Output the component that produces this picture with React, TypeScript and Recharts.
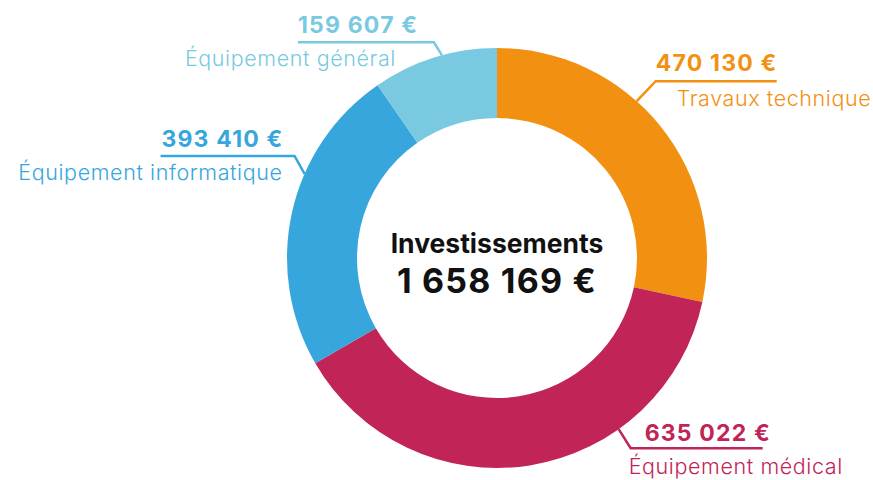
import React from 'react';
import { PieChart, Pie, Cell, Label } from 'recharts';

const categories = ['Travaux technique', 'Équipement médical', 'Équipement informatique', 'Équipement général'];
const values = [470130, 635022, 393410, 159607];
const amountLabels = ['470 130 €', '635 022 €', '393 410 €', '159 607 €'];
const totalLabel = '1 658 169 €';
const centerTitle = 'Investissements';

const COLORS = ['#F29111', '#C12557', '#37A6DD', '#79CAE1'];

const CX = 497;
const CY = 258;
const FONT = 'Inter, "Open Sans", sans-serif';

// leader line layout per slice: anchor angle on the outer edge, elbow offset, line end, text offsets
const LAYOUT = [
  { angle: 48.3, elbow: [19, -20], lineLen: 121, value: { dx: 0, dy: -10, anchor: 'start' }, cat: { dx: 21, dy: 25, anchor: 'start' } },
  { angle: -54.6, elbow: [12, 19], lineLen: 132, value: { dx: 14, dy: -7, anchor: 'start' }, cat: { dx: -2, dy: 26, anchor: 'start' } },
  { angle: 156.4, elbow: [-10, -18], lineLen: -134, value: { dx: -11, dy: -9, anchor: 'end' }, cat: { dx: -12, dy: 24, anchor: 'end' } },
  { angle: 105.2, elbow: [-8, -13], lineLen: -136, value: { dx: -136, dy: -9, anchor: 'start' }, cat: { dx: -38, dy: 24, anchor: 'end' } },
];

const data = categories.map((name, i) => ({ name, value: values[i] }));

const renderLabel = (props: any) => {
  const { index, outerRadius } = props;
  const cx = typeof props.cx === 'number' ? props.cx : CX;
  const cy = typeof props.cy === 'number' ? props.cy : CY;
  const l = LAYOUT[index];
  const rad = (l.angle * Math.PI) / 180;
  const sx = cx + outerRadius * Math.cos(rad);
  const sy = cy - outerRadius * Math.sin(rad);
  const ex = sx + l.elbow[0];
  const ey = sy + l.elbow[1];
  const color = COLORS[index];
  return (
    <g key={`lbl-${index}`}>
      <polyline
        points={`${sx},${sy} ${ex},${ey} ${ex + l.lineLen},${ey}`}
        fill="none"
        stroke={color}
        strokeWidth={2.5}
      />
      <text
        x={ex + l.value.dx}
        y={ey + l.value.dy}
        textAnchor={l.value.anchor}
        fill={color}
        fontFamily={FONT}
        fontWeight={700}
        fontSize={23}
        letterSpacing={1.2}
      >
        {amountLabels[index]}
      </text>
      <text
        x={ex + l.cat.dx}
        y={ey + l.cat.dy}
        textAnchor={l.cat.anchor}
        fill={color}
        fontFamily={FONT}
        fontWeight={300}
        fontSize={21.5}
        letterSpacing={0.6}
      >
        {categories[index]}
      </text>
    </g>
  );
};

const renderCenter = (props: any) => {
  const vb = props.viewBox || {};
  const cx = typeof vb.cx === 'number' ? vb.cx : CX;
  const cy = typeof vb.cy === 'number' ? vb.cy : CY;
  return (
    <g>
      <text x={cx} y={cy - 5} textAnchor="middle" fill="#111" fontFamily={FONT} fontWeight={700} fontSize={26.5}>
        {centerTitle}
      </text>
      <text x={cx} y={cy + 35} textAnchor="middle" fill="#111" fontFamily={FONT} fontWeight={700} fontSize={34} letterSpacing={1.2}>
        {totalLabel}
      </text>
    </g>
  );
};

export default function App() {
  return (
    <div style={{ position: 'absolute', left: 0, top: 0, width: 873, height: 480, background: '#fff' }}>
      <PieChart width={873} height={480} margin={{ top: 0, right: 0, bottom: 0, left: 0 }}>
        <Pie
          data={data}
          dataKey="value"
          nameKey="name"
          cx={CX}
          cy={CY}
          innerRadius={140}
          outerRadius={210}
          startAngle={90}
          endAngle={-270}
          stroke="none"
          labelLine={false}
          label={renderLabel}
          isAnimationActive={false}
        >
          {data.map((entry, i) => (
            <Cell key={entry.name} fill={COLORS[i]} />
          ))}
          <Label position="center" content={renderCenter} />
        </Pie>
      </PieChart>
    </div>
  );
}
